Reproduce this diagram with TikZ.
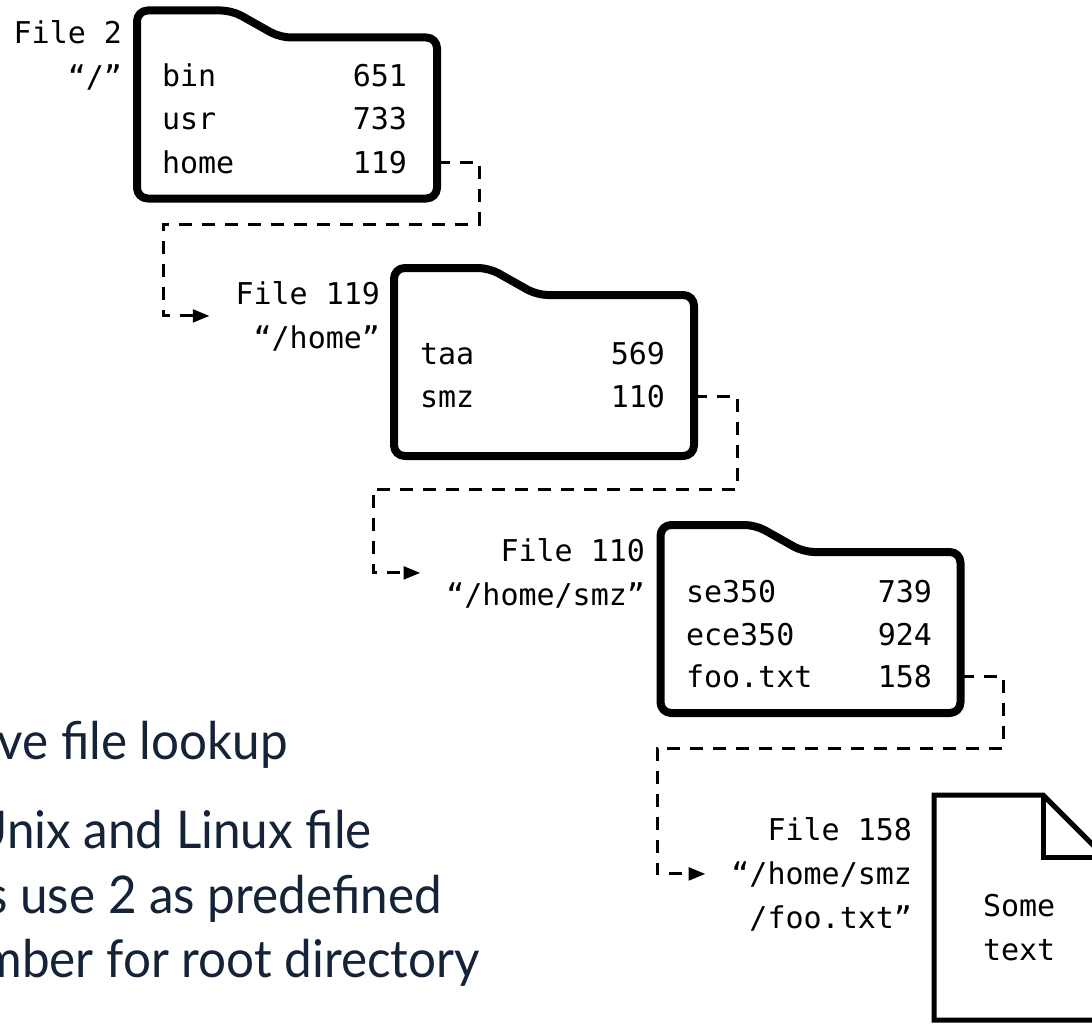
\documentclass[tikz,border=0pt]{standalone}
\usepackage{fontspec}
\usepackage{graphicx}
\setmainfont{Lato}
\newfontfamily\monof{DejaVu Sans Mono}
\usetikzlibrary{arrows.meta}
\definecolor{slidetext}{RGB}{20,35,55}
\begin{document}
\begin{tikzpicture}[x=0.75pt,y=-0.75pt,
  folderbox/.style={draw=none,inner sep=0pt,outer sep=0pt,minimum width=225pt,minimum height=141pt},
  folderline/.style={line width=6pt,line join=round,rounded corners=8pt},
  mono/.style={font=\monof\fontsize{22.5}{33}\selectfont,inner sep=0pt,outer sep=0pt},
  rowname/.style={mono,anchor=base west},
  rownum/.style={mono,anchor=base east},
  flabel/.style={mono,anchor=base east,align=right},
  conn/.style={line width=2.25pt,dash pattern=on 9.75pt off 7.5pt,
    -{Triangle[length=12.5pt,width=9.5pt]},shorten >=19.5pt},
  slide/.style={font=\fontsize{39}{46}\selectfont,text=slidetext,anchor=base east,inner sep=0pt}]
\useasboundingbox (0,0) rectangle (1092,1024);
\clip (0,0) rectangle (1092,1024);

% folders
\node[folderbox] (f1) at (287,104.5) {};
\node[folderbox] (f2) at (544,362) {};
\node[folderbox] (f3) at (810.5,619) {};
\foreach \f in {f1,f2,f3}{
  \draw[folderline] (\f.south) -- (\f.south west) -- (\f.north west) -- ++(95,0)
    -- ++(48,27) -- ++(157,0) -- (\f.south east) -- cycle;
}

% folder 1 rows
\node[rowname] (b1) at (162,87) {bin};
\node[rowname] (u1) at (162,129) {usr};
\node[rowname] (h1) at (162,173) {home};
\node[rownum] (n651) at (407,87) {651};
\node[rownum] (n733) at (407,129) {733};
\node[rownum] (n119) at (407,173) {119};
% folder 2 rows
\node[rowname] (t2) at (420,364) {taa};
\node[rowname] (s2) at (420,407) {smz};
\node[rownum] (n569) at (665,364) {569};
\node[rownum] (n110) at (665,407) {110};
% folder 3 rows
\node[rowname] (se3) at (686,602) {se350};
\node[rowname] (ec3) at (686,645) {ece350};
\node[rowname] (fo3) at (686,687) {foo.txt};
\node[rownum] (n739) at (932,602) {739};
\node[rownum] (n924) at (932,645) {924};
\node[rownum] (n158) at (932,687) {158};

% labels (base = baseline of the last line)
\node[flabel] (lab1) at (122,88) {File 2\\“/”};
\node[flabel] (lab2) at (380,348) {File 119\\“/home”};
\node[flabel] (lab3) at (645,605) {File 110\\“/home/smz”};
\node[flabel] (lab4) at (912,928) {File 158\\“/home/smz\\/foo.txt”};

% document
\node[draw=none,inner sep=0pt,outer sep=0pt,minimum width=128.25pt,minimum height=168.75pt] (doc) at (1019.5,907.5) {};
\draw[line width=3.75pt,line join=miter] (doc.north west) -- ++(109,0) -- ++(62,62)
  -- (doc.south east) -- (doc.south west) -- cycle;
\draw[line width=3.75pt,line join=miter] ([xshift=81.75pt]doc.north west) -- ++(0,62) -- ++(62,0);
\node[mono,anchor=base west,align=left] (txt) at (983,960) {Some\\text};

% connectors
\coordinate (k1a) at (479,224);
\coordinate (k1b) at (163,224);
\coordinate (k2a) at (737,489);
\coordinate (k2b) at (373,489);
\coordinate (k3a) at (1003,748);
\coordinate (k3b) at (657,748);
\draw[conn] (n119.east -| f1.east) -| (k1a) -- (k1b) |- (lab2.west);
\draw[conn] (n110.east -| f2.east) -| (k2a) -- (k2b) |- (lab3.west);
\draw[conn] (n158.east -| f3.east) -| (k3a) -- (k3b) |- (lab4.west);

% slide text (cut off at the left edge)
\node[slide] (s1) at (288,759) {\scalebox{0.95}[1]{Recursive file lookup}};
\node[slide] (s2) at (372,848) {\scalebox{0.95}[1]{Unix and Linux file}};
\node[slide] (s3) at (442,913) {\scalebox{0.95}[1]{systems use 2 as predefined}};
\node[slide] (s4) at (480,977) {\scalebox{0.95}[1]{number for root directory}};
\end{tikzpicture}
\end{document}
